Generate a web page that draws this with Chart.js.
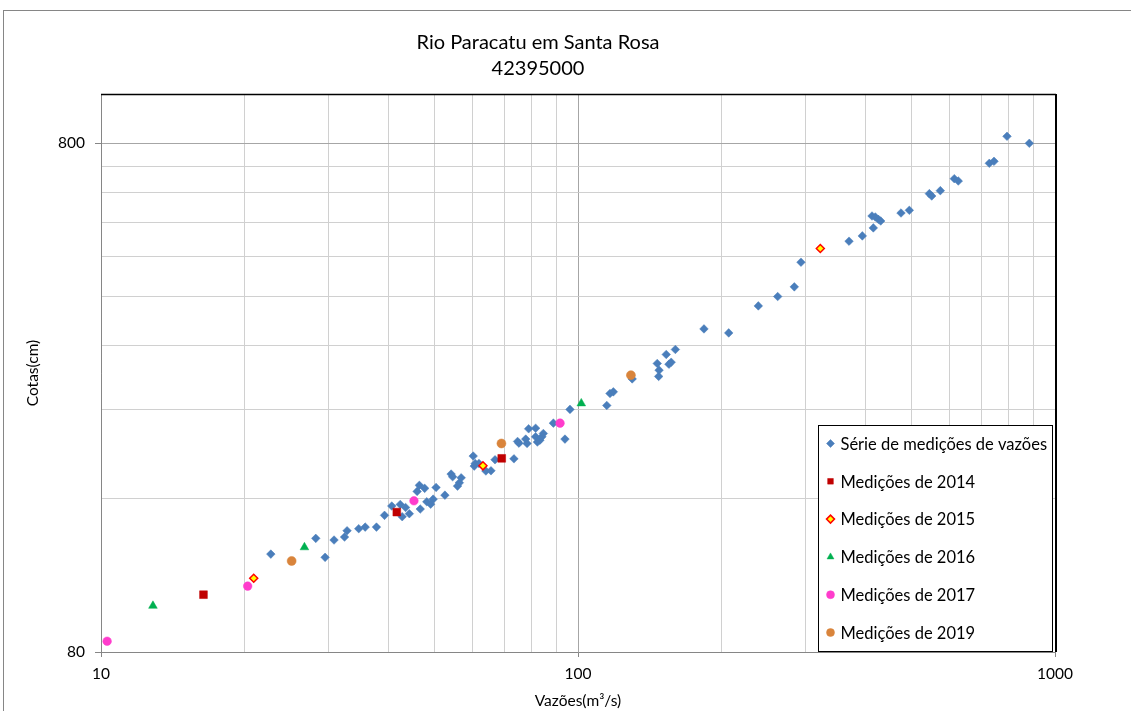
<!DOCTYPE html>
<html>
<head>
<meta charset="utf-8">
<title>Rio Paracatu em Santa Rosa</title>
<script src="https://cdn.jsdelivr.net/npm/chart.js@4.4.1/dist/chart.umd.min.js"></script>
<style>
  html, body { margin: 0; padding: 0; background: #fff; }
  #wrap { position: relative; width: 1131px; height: 711px; }
</style>
</head>
<body>
<div id="wrap"><canvas id="curva" width="1131" height="711"></canvas></div>
<script>
// curva-chave - vazao (m3/s) x cota (cm)
var serieQ = [22.7, 28.2, 29.5, 30.8, 32.4, 32.8, 34.7, 35.8, 37.8, 39.3, 40.7, 42.4, 42.8, 43.5, 44.3,
  46.0, 46.5, 46.7, 47.7, 48.2, 49.1, 49.7, 50.4, 52.6, 54.2, 54.6, 55.9, 56.4, 56.9, 60.3, 60.6, 60.9,
  62.0, 64.1, 65.7, 67.0, 73.4, 74.7, 75.2, 77.7, 78.2, 78.8, 81.5, 81.5, 82.2, 83.2, 84.0, 84.6, 88.8,
  93.9, 96.2, 114.9, 116.7, 118.6, 129.9, 146.6, 147.6, 147.9, 153.1, 155.1, 156.8, 160.0, 183.7, 207.0,
  238.8, 262.2, 284.1, 293.4, 370.0, 394.5, 413.4, 416.0, 420.1, 426.2, 431.1, 475.5, 495.0, 545.2,
  551.5, 574.9, 615.0, 627.0, 728.3, 745.0, 793.2, 883.4];
var serieH = [124.6, 133.8, 122.8, 132.8, 134.6, 138.5, 139.8, 140.8, 140.8, 148.5, 154.9, 156.0, 147.6, 153.9, 149.6,
  165.5, 170.1, 152.8, 167.8, 157.9, 156.2, 159.8, 168.5, 162.7, 179.0, 176.8, 169.5, 172.1, 176.0, 194.2, 185.6, 187.8,
  187.8, 181.5, 181.7, 191.0, 191.8, 207.5, 205.9, 209.7, 205.6, 219.7, 220.3, 211.9, 206.9, 208.7, 211.9, 215.1, 225.4,
  209.7, 239.9, 244.2, 257.8, 259.7, 275.4, 295.3, 278.5, 286.5, 307.6, 294.3, 297.0, 314.6, 345.3, 339.1,
  383.2, 399.8, 417.7, 467.0, 513.6, 526.1, 575.7, 545.5, 573.1, 567.1, 562.8, 583.5, 590.7, 637.0,
  630.2, 645.6, 681.6, 674.4, 730.8, 737.4, 825.7, 800.0];

var q2014 = [16.4, 41.7, 69.2];
var h2014 = [103.7, 150.7, 192.2];
var q2015 = [20.9, 63.2, 322.1];
var h2015 = [111.7, 185.8, 496.9];
var q2016 = [12.85, 26.7, 101.6];
var h2016 = [98.6, 128.5, 246.5];
var q2017 = [10.3, 20.3, 45.3, 91.7];
var h2017 = [84.0, 107.8, 158.6, 225.4];
var q2019 = [25.1, 69.1, 129.1];
var h2019 = [120.8, 205.6, 280.1];

var xGrade = [10, 20, 30, 40, 50, 60, 70, 80, 90, 100, 200, 300, 400, 500, 600, 700, 800, 900, 1000];
var xRotulos = [10, 100, 1000];
var yGrade = [80, 160, 240, 320, 400, 480, 560, 640, 720, 800];
var yRotulos = [80, 800];

var fonte = "Lato, 'Liberation Sans', sans-serif";

function pontos(qs, hs) {
  var r = [];
  for (var i = 0; i < qs.length; i++) {
    r.push({x: qs[i], y: hs[i]});
  }
  return r;
}

function corGrade(rotulos) {
  return function (c) {
    if (c.tick && rotulos.indexOf(c.tick.value) >= 0) return '#a6a6a6';
    return '#d0d0d0';
  };
}
function corTick(rotulos) {
  return function (c) {
    if (c.tick && rotulos.indexOf(c.tick.value) >= 0) return '#868686';
    return 'rgba(0,0,0,0)';
  };
}

// moldura externa, borda do grafico e legenda dentro da area
var moldura = {
  id: 'moldura',
  beforeDraw: function (chart) {
    var c = chart.ctx;
    c.save();
    c.fillStyle = '#fff';
    c.fillRect(0, 0, chart.width, chart.height);
    c.strokeStyle = '#868686';
    c.lineWidth = 1;
    c.strokeRect(3.5, 10.5, chart.width + 20, chart.height + 20);
    c.restore();
  },
  afterDraw: function (chart) {
    var a = chart.chartArea, c = chart.ctx;
    c.save();
    c.strokeStyle = '#000';
    c.lineWidth = 1.5;
    c.beginPath();
    c.moveTo(a.left, a.top + 0.5);
    c.lineTo(a.right + 1, a.top + 0.5);
    c.stroke();
    c.lineWidth = 2;
    c.beginPath();
    c.moveTo(a.right + 1, a.top);
    c.lineTo(a.right + 1, a.bottom);
    c.stroke();

    var bw = 234, bh = 226;
    var bx = Math.round(a.right - 3 - bw) + 0.5, by = Math.round(a.bottom - 1 - bh) + 0.5;
    c.lineWidth = 1;
    c.fillStyle = '#fff';
    c.fillRect(bx, by, bw, bh);
    c.strokeStyle = '#000';
    c.strokeRect(bx, by, bw, bh);

    c.font = '16.5px ' + fonte;
    c.textBaseline = 'middle';
    c.textAlign = 'left';
    chart.data.datasets.forEach(function (ds, i) {
      var yy = by + 18 + i * 37.8;
      c.fillStyle = ds.backgroundColor;
      c.strokeStyle = ds.borderColor;
      c.lineWidth = ds.borderWidth;
      Chart.helpers.drawPoint(c, {
        pointStyle: ds.pointStyle,
        radius: Math.min(ds.pointRadius, 4),
        rotation: 0,
        borderWidth: ds.borderWidth
      }, bx + 12, yy);
      c.fillStyle = '#000';
      c.fillText(ds.label, bx + 22, yy + 1);
    });
    c.restore();
  }
};

new Chart(document.getElementById('curva'), {
  type: 'scatter',
  data: {
    datasets: [{
      label: 'Série de medições de vazões',
      data: pontos(serieQ, serieH),
      pointStyle: 'rectRot',
      pointRadius: 4.3,
      backgroundColor: '#4a7ebb',
      borderColor: '#4a7ebb',
      borderWidth: 0.5,
      order: 1
    }, {
      label: 'Medições de 2014',
      data: pontos(q2014, h2014),
      pointStyle: 'rect',
      pointRadius: 5.5,
      backgroundColor: '#c00000',
      borderColor: '#c00000',
      borderWidth: 0.5,
      order: 0
    }, {
      label: 'Medições de 2015',
      data: pontos(q2015, h2015),
      pointStyle: 'rectRot',
      pointRadius: 4,
      backgroundColor: '#ffff00',
      borderColor: '#ff0000',
      borderWidth: 1.5,
      order: 0
    }, {
      label: 'Medições de 2016',
      data: pontos(q2016, h2016),
      pointStyle: 'triangle',
      pointRadius: 5,
      backgroundColor: '#00b050',
      borderColor: '#00b050',
      borderWidth: 0.5,
      order: 0
    }, {
      label: 'Medições de 2017',
      data: pontos(q2017, h2017),
      pointStyle: 'circle',
      pointRadius: 4.3,
      backgroundColor: '#ff3ccc',
      borderColor: '#ff3ccc',
      borderWidth: 0.5,
      order: 0
    }, {
      label: 'Medições de 2019',
      data: pontos(q2019, h2019),
      pointStyle: 'circle',
      pointRadius: 4.5,
      backgroundColor: '#d9843b',
      borderColor: '#d9843b',
      borderWidth: 0.5,
      order: 0
    }]
  },
  options: {
    responsive: false,
    animation: false,
    layout: { padding: { left: 21, right: 76, top: 0, bottom: 0 } },
    plugins: {
      legend: { display: false },
      tooltip: { enabled: false },
      title: {
        display: true,
        text: ['Rio Paracatu em Santa Rosa', '42395000'],
        color: '#000',
        font: { family: fonte, size: 20, weight: 'normal', lineHeight: 1.3 },
        padding: { top: 30, bottom: 12 }
      }
    },
    scales: {
      x: {
        type: 'logarithmic',
        min: 10,
        max: 1000,
        afterBuildTicks: function (s) { s.ticks = xGrade.map(function (v) { return {value: v}; }); },
        afterFit: function (s) { s.height = 59; },
        ticks: {
          autoSkip: false,
          maxRotation: 0,
          padding: 8,
          color: '#000',
          font: { family: fonte, size: 15.5 },
          callback: function (v) { return xRotulos.indexOf(v) >= 0 ? String(v) : ''; }
        },
        grid: { color: corGrade(xRotulos), tickColor: corTick(xRotulos), tickLength: 5 },
        border: { color: '#868686', width: 1 },
        title: {
          display: true,
          text: 'Vazões(m³/s)',
          color: '#000',
          font: { family: fonte, size: 15.5 },
          padding: { top: 0, bottom: 1 }
        }
      },
      y: {
        type: 'logarithmic',
        min: 80,
        max: 1000,
        afterBuildTicks: function (s) { s.ticks = yGrade.map(function (v) { return {value: v}; }); },
        afterFit: function (s) { s.width = 80; },
        ticks: {
          autoSkip: false,
          padding: 10,
          color: '#000',
          font: { family: fonte, size: 15.5 },
          callback: function (v) { return yRotulos.indexOf(v) >= 0 ? String(v) : ''; }
        },
        grid: { color: corGrade(yRotulos), tickColor: corTick(yRotulos), tickLength: 6 },
        border: { color: '#868686', width: 1 },
        title: {
          display: true,
          text: 'Cotas(cm)',
          color: '#000',
          font: { family: fonte, size: 15.5 },
          padding: { top: 3, bottom: 0 }
        }
      }
    }
  },
  plugins: [moldura]
});
</script>
</body>
</html>
